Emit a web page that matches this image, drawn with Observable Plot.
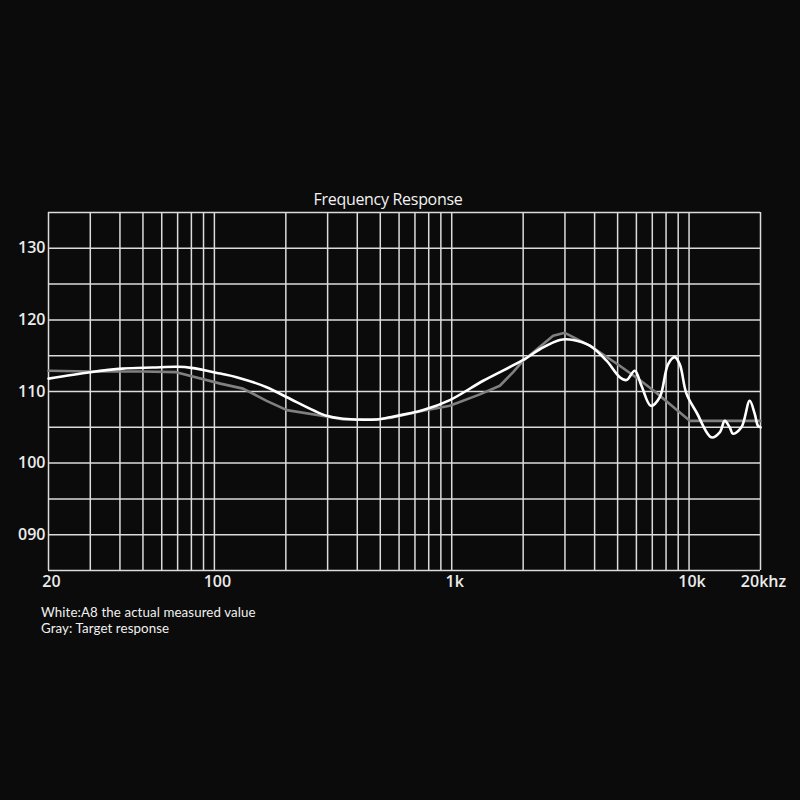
<!DOCTYPE html>
<html>
<head>
<meta charset="utf-8">
<script src="https://cdn.jsdelivr.net/npm/d3@7"></script>
<script src="https://cdn.jsdelivr.net/npm/@observablehq/plot@0.6"></script>
<style>
  html, body { margin: 0; padding: 0; background: #0b0b0b; }
  #wrap { position: relative; width: 800px; height: 800px; background: #0b0b0b; overflow: hidden; }
  #title { position: absolute; left: 0; width: 776px; top: 189px; text-align: center;
           font: 500 16px/20px "Open Sans", sans-serif; color: #f2f2f2; letter-spacing: -0.3px; }
  #chart { position: absolute; left: 0; top: 200px; }
  .note { position: absolute; left: 41px; font: 400 13.3px/16px Lato, sans-serif;
          color: #f0f0f0; letter-spacing: 0.1px; white-space: nowrap; }
</style>
</head>
<body>
<div id="wrap">
  <div id="title">Frequency Response</div>
  <div id="chart"></div>
  <div class="note" style="top: 604px;">White:A8 the actual measured value</div>
  <div class="note" style="top: 620px;">Gray: Target response</div>
</div>
<script>
// Measured response of the A8 (Hz, dB)
const measuredFreq = [20, 30, 41, 55, 70, 80, 106, 124, 166, 202, 297, 349, 483, 549, 758, 982, 1357, 2000, 2352, 2854, 3247, 3818, 4490, 5107, 5451, 5907, 6304, 6900, 7524, 8155, 8704, 9139, 9750, 10745, 12420, 13465, 14135, 14834, 15320, 16620, 18010, 18900, 19520, 20000];
const measuredDb   = [111.8, 112.7, 113.2, 113.35, 113.45, 113.3, 112.5, 112.0, 110.6, 109.2, 106.6, 106.2, 106.1, 106.4, 107.4, 108.8, 111.5, 114.4, 115.9, 117.2, 117.2, 116.4, 114.3, 112.0, 111.6, 112.9, 110.8, 108.0, 109.2, 113.8, 114.8, 113.8, 109.7, 107.1, 103.6, 104.3, 105.9, 105.0, 104.1, 105.0, 108.7, 106.9, 105.2, 105.0];

// Target curve (Hz, dB)
const targetFreq = [20, 30, 50, 69, 106, 132, 166, 202, 297, 349, 483, 549, 758, 982, 1314, 1595, 1815, 2000, 2675, 2996, 3818, 5000, 6200, 7170, 10070, 20000];
const targetDb   = [112.9, 112.8, 112.8, 112.7, 111.1, 110.4, 108.7, 107.4, 106.5, 106.1, 106.1, 106.3, 107.3, 108.0, 109.6, 110.8, 112.7, 114.3, 117.8, 118.2, 116.4, 113.8, 111.6, 110.0, 105.9, 105.9];

// Axis ticks and grid
const xTickValues = [20, 100, 1000, 10000, 20000];
const xTickLabels = ["20", "100", "1k", "10k", "20khz"];
const yTickValues = [90, 100, 110, 120, 130];
const xGridValues = [20, 30, 40, 50, 60, 70, 80, 90, 100, 200, 300, 400, 500, 600, 700, 800, 900,
                     1000, 2000, 3000, 4000, 5000, 6000, 7000, 8000, 9000, 10000, 20000];
const yGridValues = [85, 90, 95, 100, 105, 110, 115, 120, 125, 130, 135];

const measured = measuredFreq.map((f, i) => ({f, db: measuredDb[i]}));
const target = targetFreq.map((f, i) => ({f, db: targetDb[i]}));

const gridColor = "#dcdcdc";

const chart = Plot.plot({
  width: 800,
  height: 400,
  marginLeft: 48,
  marginRight: 40,
  marginTop: 12,
  marginBottom: 30,
  style: {background: "transparent", color: "#ececec", fontFamily: "'Open Sans', sans-serif", fontSize: "16px", fontWeight: 600},
  x: {type: "log", domain: [20, 20000]},
  y: {domain: [85, 135]},
  marks: [
    Plot.gridX(xGridValues, {stroke: gridColor, strokeOpacity: 1, strokeWidth: 1.5}),
    Plot.gridY(yGridValues, {stroke: gridColor, strokeOpacity: 1, strokeWidth: 1.5}),
    Plot.axisX(xTickValues, {tickSize: 0, tickPadding: 5, dx: 3, label: null,
      tickFormat: (d) => xTickLabels[xTickValues.indexOf(d)]}),
    Plot.axisY(yTickValues, {tickSize: 0, tickPadding: 3, label: null,
      tickFormat: (d) => (d < 100 ? "0" + d : String(d))}),
    Plot.line(target, {x: "f", y: "db", stroke: "#808080", strokeWidth: 2.6, curve: "linear"}),
    Plot.line(measured, {x: "f", y: "db", stroke: "#ffffff", strokeWidth: 2.6, curve: "catmull-rom"})
  ]
});

document.getElementById("chart").appendChild(chart);
</script>
</body>
</html>
